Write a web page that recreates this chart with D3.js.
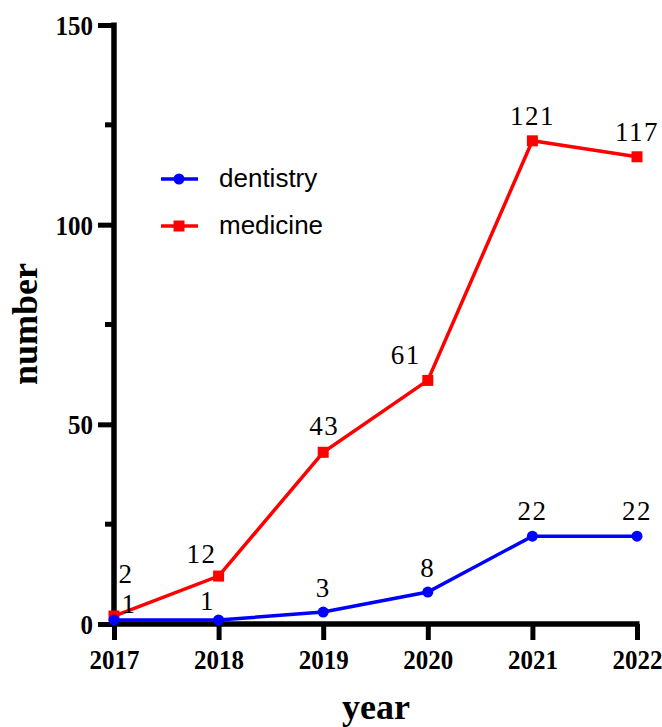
<!DOCTYPE html>
<html>
<head>
<meta charset="utf-8">
<script src="https://cdn.jsdelivr.net/npm/d3@7"></script>
<style>
  body { margin: 0; background: #fff; }
  svg { display: block; }
</style>
</head>
<body>
<svg></svg>
<script>
const years = [2017, 2018, 2019, 2020, 2021, 2022];
const dentistry = [1, 1, 3, 8, 22, 22];
const medicine = [2, 12, 43, 61, 121, 117];
const yTicks = [0, 50, 100, 150];
const yMinor = [25, 75, 125];

// label offsets (dx, dy baseline) relative to each point
const dentOffsets = [[15, -7], [-11, -10], [0, -15], [0, -15], [0, -16], [0, -16]];
const medOffsets = [[12, -33], [-17, -13], [1, -17], [-22, -16], [0, -16], [0, -16]];

const width = 662;
const height = 727;
const serif = '"Liberation Serif", "Times New Roman", serif';
const stretch = 1.12;

const svg = d3.select('svg')
    .attr('width', width)
    .attr('height', height);

const x = d3.scaleLinear().domain([2017, 2022]).range([114, 637]);
const y = d3.scaleLinear().domain([0, 150]).range([624, 25]);

// y axis
const yAxis = d3.axisLeft(y).tickValues(yTicks).tickSize(16).tickPadding(5).tickFormat(d3.format('d'));
const gy = svg.append('g')
    .attr('transform', 'translate(114,0)')
    .call(yAxis);
gy.select('.domain').attr('stroke', '#000').attr('stroke-width', 5.5)
    .attr('d', `M0,${y(150) - 2.5}V${y(0) + 2.5}`);
gy.selectAll('.tick line').attr('stroke', '#000').attr('stroke-width', 5);
gy.selectAll('.tick text')
    .attr('font-family', serif)
    .attr('font-weight', 'bold')
    .attr('font-size', 25)
    .attr('dy', '0.34em')
    .attr('transform', `scale(1,${stretch})`)
    .attr('fill', '#000');

svg.append('g').selectAll('line')
    .data(yMinor)
    .join('line')
    .attr('x1', 105).attr('x2', 114)
    .attr('y1', d => y(d)).attr('y2', d => y(d))
    .attr('stroke', '#000').attr('stroke-width', 5);

// x axis
const xAxis = d3.axisBottom(x).tickValues(years).tickSize(16).tickFormat(d3.format('d'));
const gx = svg.append('g')
    .attr('transform', `translate(0,${y(0)})`)
    .call(xAxis);
gx.select('.domain').attr('stroke', '#000').attr('stroke-width', 5.5)
    .attr('d', `M111,0H639.5`);
gx.selectAll('.tick line').attr('stroke', '#000').attr('stroke-width', 5);
gx.selectAll('.tick text')
    .attr('y', 45 / stretch).attr('dy', 0)
    .attr('transform', `scale(1,${stretch})`)
    .attr('font-family', serif)
    .attr('font-weight', 'bold')
    .attr('font-size', 25)
    .attr('fill', '#000');

// axis titles
svg.append('text')
    .attr('x', 376).attr('y', 719)
    .attr('text-anchor', 'middle')
    .attr('font-family', serif)
    .attr('font-weight', 'bold')
    .attr('font-size', 36)
    .text('year');

svg.append('text')
    .attr('transform', 'translate(37,324) rotate(-90)')
    .attr('text-anchor', 'middle')
    .attr('font-family', serif)
    .attr('font-weight', 'bold')
    .attr('font-size', 36)
    .text('number');

const line = d3.line()
    .x((d, i) => x(years[i]))
    .y(d => y(d));

// medicine series
svg.append('path')
    .datum(medicine)
    .attr('fill', 'none')
    .attr('stroke', '#ff0000')
    .attr('stroke-width', 3.5)
    .attr('d', line);

svg.append('g').selectAll('rect')
    .data(medicine)
    .join('rect')
    .attr('x', (d, i) => x(years[i]) - 5.5)
    .attr('y', d => y(d) - 5.5)
    .attr('width', 11).attr('height', 11)
    .attr('fill', '#ff0000');

// dentistry series
svg.append('path')
    .datum(dentistry)
    .attr('fill', 'none')
    .attr('stroke', '#0000ff')
    .attr('stroke-width', 3.5)
    .attr('d', line);

svg.append('g').selectAll('circle')
    .data(dentistry)
    .join('circle')
    .attr('cx', (d, i) => x(years[i]))
    .attr('cy', d => y(d))
    .attr('r', 5.5)
    .attr('fill', '#0000ff');

// value labels
const addLabels = (vals, offs) => {
    svg.append('g').selectAll('text')
        .data(vals)
        .join('text')
        .attr('x', (d, i) => x(years[i]) + offs[i][0])
        .attr('y', (d, i) => y(d) + offs[i][1])
        .attr('text-anchor', 'middle')
        .attr('font-family', serif)
        .attr('font-size', 27)
        .attr('letter-spacing', 1.5)
        .attr('fill', '#000')
        .text(d => d);
};
addLabels(medicine, medOffsets);
addLabels(dentistry, dentOffsets);

// legend
const legend = [
    { name: 'dentistry', color: '#0000ff', shape: 'circle', y: 179 },
    { name: 'medicine', color: '#ff0000', shape: 'square', y: 226 }
];
const lg = svg.append('g');
legend.forEach(l => {
    lg.append('line')
        .attr('x1', 161).attr('x2', 198)
        .attr('y1', l.y).attr('y2', l.y)
        .attr('stroke', l.color).attr('stroke-width', 3.5);
    if (l.shape === 'circle') {
        lg.append('circle').attr('cx', 179).attr('cy', l.y).attr('r', 5.5).attr('fill', l.color);
    } else {
        lg.append('rect').attr('x', 173.5).attr('y', l.y - 5.5).attr('width', 11).attr('height', 11).attr('fill', l.color);
    }
    lg.append('text')
        .attr('x', 219).attr('y', l.y + 8)
        .attr('font-family', '"Liberation Sans", Arial, sans-serif')
        .attr('font-size', 26)
        .attr('fill', '#000')
        .text(l.name);
});
</script>
</body>
</html>
